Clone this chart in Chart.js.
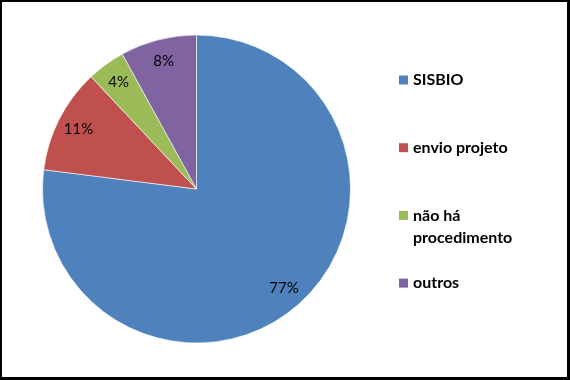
<!DOCTYPE html>
<html lang="pt">
<head>
  <meta charset="UTF-8">
  <title>Procedimentos</title>
  <script src="https://cdn.jsdelivr.net/npm/chart.js"></script>
  <style>
    body { margin: 0; background: #000; }
    #frame {
      width: 565px; height: 375px; background: #fff;
      border-left: 2px solid #000; border-top: 2px solid #000;
      border-right: 3px solid #000; border-bottom: 3px solid #000;
    }
  </style>
</head>
<body>
  <div id="frame"><canvas id="pieChart" width="565" height="375"></canvas></div>

  <script>
    // dados
    let categories = ['SISBIO', 'envio projeto', ['não há', 'procedimento'], 'outros'];
    let values = [77, 11, 4, 8];
    let colors = ['#4F81BD', '#C0504D', '#9BBB59', '#8064A2'];

    let fontFamily = 'Lato, "Liberation Sans", sans-serif';

    // rótulos de porcentagem dentro das fatias
    let pctLabels = {
      id: 'pctLabels',
      afterDatasetsDraw(chart) {
        let ctx = chart.ctx;
        let meta = chart.getDatasetMeta(0);
        ctx.save();
        ctx.font = '15px ' + fontFamily;
        ctx.fillStyle = '#000';
        ctx.textAlign = 'center';
        ctx.textBaseline = 'middle';
        meta.data.forEach(function(arc, i) {
          let p = arc.getProps(['x', 'y', 'startAngle', 'endAngle', 'outerRadius'], true);
          let mid = (p.startAngle + p.endAngle) / 2;
          let r = p.outerRadius * 0.86;
          ctx.fillText(values[i] + '%', p.x + Math.cos(mid) * r, p.y + Math.sin(mid) * r);
        });
        ctx.restore();
      }
    };

    // legenda à direita, no estilo do Excel
    let sideLegend = {
      id: 'sideLegend',
      afterDraw(chart) {
        let ctx = chart.ctx;
        let x = 397, top = 78, step = 67.7, box = 9, lineH = 22;
        ctx.save();
        ctx.font = 'bold 16px ' + fontFamily;
        ctx.textBaseline = 'middle';
        categories.forEach(function(cat, i) {
          let y = top + i * step;
          ctx.fillStyle = colors[i];
          ctx.fillRect(x, y - box / 2, box, box);
          ctx.fillStyle = '#000';
          let lines = Array.isArray(cat) ? cat : [cat];
          lines.forEach(function(t, j) {
            ctx.fillText(t, x + 14, y + j * lineH);
          });
        });
        ctx.restore();
      }
    };

    new Chart(document.getElementById('pieChart'), {
      type: 'pie',
      data: {
        labels: categories,
        datasets: [{
          data: values,
          backgroundColor: colors,
          borderColor: 'rgba(255,255,255,0.6)',
          borderWidth: 1
        }]
      },
      options: {
        responsive: false,
        animation: false,
        layout: { padding: { left: 40, right: 216, top: 32, bottom: 33 } },
        plugins: {
          legend: { display: false },
          tooltip: { enabled: false }
        }
      },
      plugins: [pctLabels, sideLegend]
    });
  </script>
</body>
</html>
